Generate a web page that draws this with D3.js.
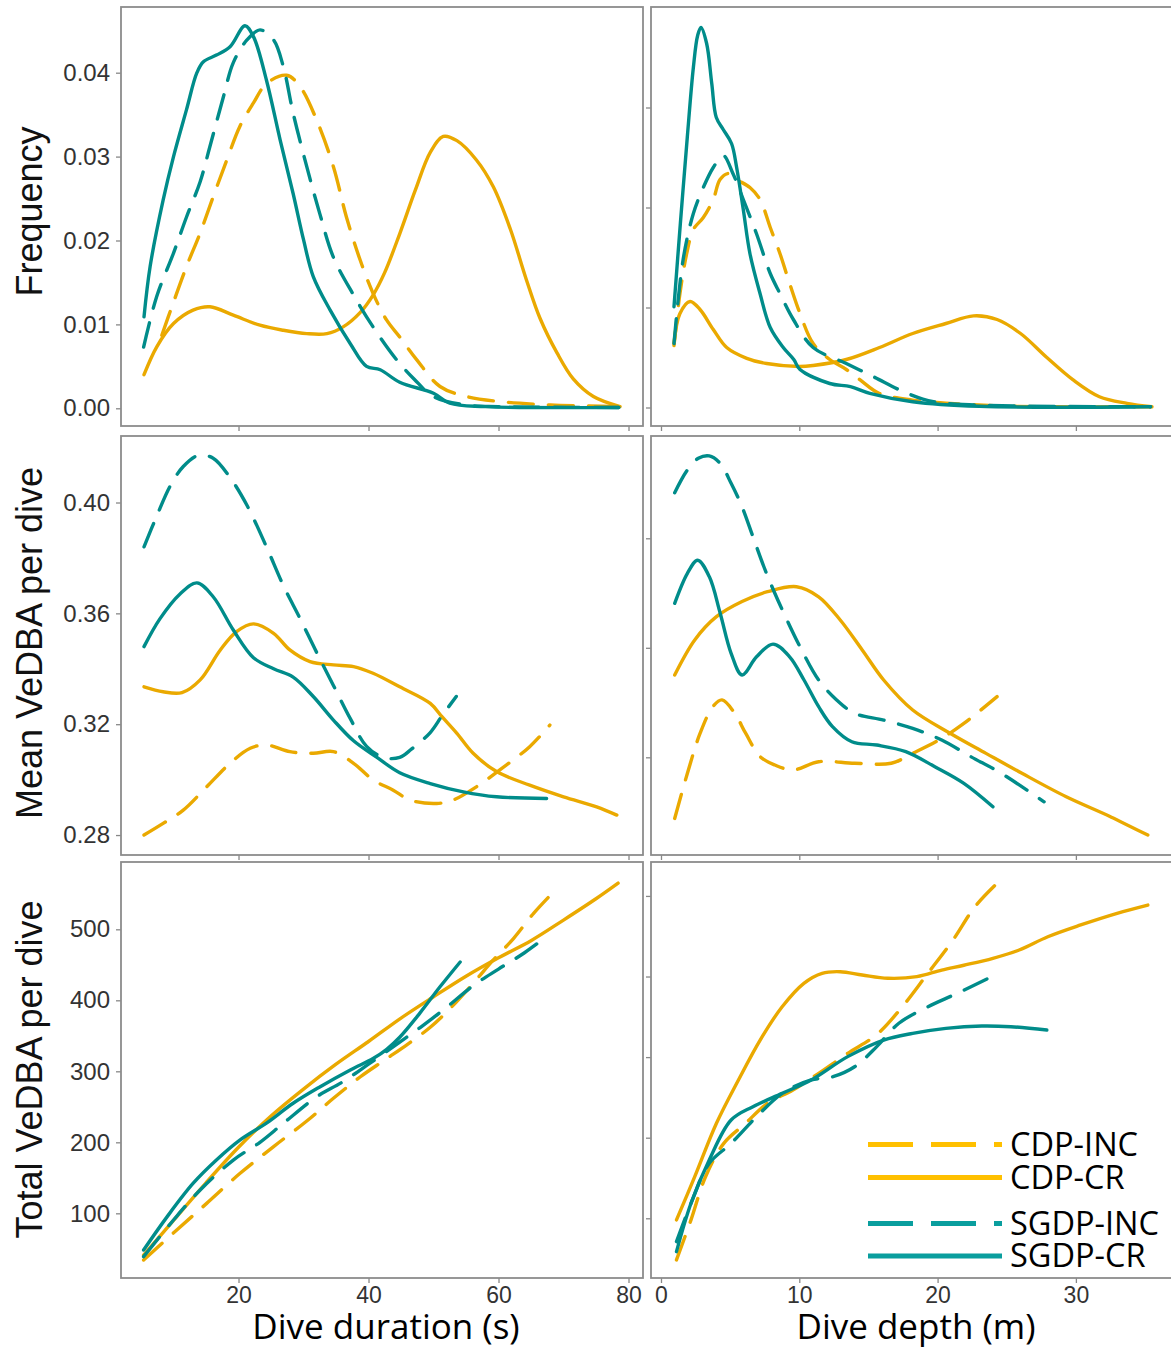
<!DOCTYPE html>
<html><head><meta charset="utf-8">
<script src="https://cdn.jsdelivr.net/npm/d3@7"></script>
<style>body{margin:0;background:#fff}</style>
</head><body><svg id="chart" width="1171" height="1349"></svg>
<script>
// ---------------- DATA ----------------
const seriesNames = ["CDP-INC", "CDP-CR", "SGDP-INC", "SGDP-CR"];
const yTitles = ["Frequency", "Mean VeDBA per dive", "Total VeDBA per dive"];
const xTitles = ["Dive duration (s)", "Dive depth (m)"];

const durTicks = [20, 40, 60, 80];
const depTicks = [0, 10, 20, 30];
const freqDurTicks = [0, 0.01, 0.02, 0.03, 0.04];
const freqDepTicks = [0, 0.05, 0.10, 0.15];
const meanDurTicks = [0.28, 0.32, 0.36, 0.40];
const meanDepTicks = [0.30, 0.35, 0.40];
const totDurTicks = [100, 200, 300, 400, 500];
const totDepTicks = [100, 200, 300, 400, 500];

// Frequency vs dive duration
const freqDur_CDP_INC = [[8.2,0.0087],[9.7,0.012],[12,0.0169],[14.1,0.0209],[16.1,0.0252],[18.2,0.0296],[20.2,0.0336],[22.3,0.0364],[24.3,0.0387],[27.4,0.0397],[29.5,0.0383],[32,0.0344],[34.6,0.0288],[36.6,0.0228],[38.7,0.0177],[40.7,0.0137],[42.8,0.0105],[44.8,0.0085],[47.4,0.0058],[51,0.0026],[55.1,0.0014],[60.2,0.0008],[68,0.0004],[78.2,0.0002]];
const freqDur_CDP_CR = [[5.46,0.004],[7.4,0.0073],[10,0.0101],[13,0.0117],[15.6,0.0121],[19.2,0.0111],[23.3,0.0099],[26.9,0.0093],[30.5,0.0089],[33.6,0.0089],[36.1,0.0097],[38.7,0.0114],[40.7,0.0135],[42.5,0.0162],[44.8,0.0208],[47.2,0.0260],[49.5,0.0305],[51.5,0.0324],[53.6,0.0319],[56.6,0.0296],[59.2,0.0264],[61.8,0.0214],[64.3,0.0153],[66.4,0.0107],[69,0.0066],[71.5,0.0035],[74.6,0.0014],[78.7,0.0002]];
const freqDur_SGDP_INC = [[5.4,0.0073],[7.4,0.0133],[10,0.0185],[12,0.0228],[14.1,0.0270],[15.6,0.0312],[17.7,0.0372],[19.2,0.0412],[21.3,0.0439],[23.3,0.0451],[25.4,0.0439],[26.9,0.0407],[28.4,0.0352],[30.5,0.0288],[32.5,0.0232],[34.6,0.0180],[37.7,0.0135],[40.7,0.0097],[44.3,0.0058],[47,0.0035],[50,0.0014],[55,0.0004],[60,0.0002],[78.5,0.0001]];
const freqDur_SGDP_CR = [[5.46,0.0109],[6.4,0.0169],[8.4,0.0248],[10,0.030],[12,0.0356],[13.6,0.040],[14.6,0.0413],[16.6,0.0421],[18.7,0.0431],[21,0.0456],[22.3,0.0443],[24.3,0.0391],[26.4,0.032],[28.4,0.0256],[30,0.0201],[31.5,0.0157],[34.1,0.0117],[37.2,0.0077],[39.7,0.005],[41.8,0.0046],[44.8,0.0031],[50,0.0018],[52.5,0.0006],[58,0.0002],[78.5,0.0001]];

// Frequency vs dive depth
const freqDep_CDP_INC = [[0.94,0.031],[1.37,0.057],[1.86,0.077],[2.34,0.089],[3.06,0.095],[3.78,0.104],[4.27,0.114],[4.87,0.117],[5.47,0.114],[6.43,0.110],[7.16,0.104],[7.9,0.090],[8.6,0.077],[9.3,0.062],[10.05,0.047],[11,0.032],[12.2,0.024],[13.4,0.019],[14.4,0.0138],[15.8,0.007],[18.2,0.0037],[20.6,0.0022],[25.5,0.0006],[35.4,0.0004]];
const freqDep_CDP_CR = [[0.94,0.032],[1.37,0.047],[2.1,0.053],[2.82,0.049],[3.78,0.039],[4.75,0.030],[6.2,0.0246],[7.64,0.022],[10,0.0205],[11,0.021],[13.4,0.024],[15.8,0.030],[18.2,0.037],[20.6,0.042],[22.6,0.0458],[24.3,0.044],[26,0.037],[27.9,0.025],[29.8,0.0138],[31.7,0.0054],[33.7,0.0021],[35.5,0.0004]];
const freqDep_SGDP_INC = [[0.94,0.032],[1.6,0.074],[2.34,0.097],[3.06,0.110],[3.78,0.120],[4.5,0.126],[5.2,0.117],[5.95,0.104],[6.9,0.087],[7.9,0.067],[8.6,0.057],[9.57,0.044],[11,0.030],[13.4,0.022],[15.35,0.0154],[17.8,0.0071],[19.7,0.0029],[23,0.0012],[35.4,0.0004]];
const freqDep_SGDP_CR = [[0.94,0.0504],[1.4,0.092],[1.9,0.135],[2.34,0.170],[2.65,0.186],[2.89,0.190],[3.3,0.182],[3.67,0.162],[4.0,0.145],[4.5,0.139],[5.1,0.132],[5.47,0.120],[5.95,0.099],[6.43,0.077],[7.16,0.057],[7.9,0.040],[8.84,0.030],[9.6,0.024],[10.05,0.019],[12.2,0.012],[13.7,0.0104],[15.1,0.0071],[18.2,0.0029],[23,0.0006],[35.4,0.0004]];

// Mean VeDBA vs dive duration
const meanDur_CDP_INC = [[5.46,0.280],[8.4,0.2842],[11.5,0.289],[15.1,0.2974],[18.7,0.3059],[21.8,0.3113],[24.3,0.3125],[27.9,0.3101],[31.5,0.3095],[34.6,0.3101],[37.7,0.3059],[40.7,0.2999],[43.8,0.2962],[46.4,0.2926],[50.5,0.2914],[53,0.2926],[56.6,0.2974],[60.2,0.3035],[64.8,0.3119],[67.9,0.3197]];
const meanDur_CDP_CR = [[5.46,0.3335],[8.4,0.3317],[11.3,0.3314],[14.1,0.336],[17.2,0.3468],[19.7,0.3534],[22.3,0.3562],[25.4,0.3528],[27.9,0.3468],[31,0.3426],[34.6,0.3414],[37.7,0.3408],[40.7,0.3384],[44.8,0.3335],[49.5,0.3275],[51.3,0.3227],[53.6,0.3167],[56.1,0.3095],[59.7,0.3029],[64.8,0.298],[70,0.2938],[75.1,0.2902],[78.2,0.2872]];
const meanDur_SGDP_INC = [[5.46,0.384],[7.4,0.395],[9.5,0.406],[11.5,0.413],[13.8,0.417],[16.1,0.416],[18.7,0.409],[21.3,0.399],[24.3,0.384],[26.9,0.370],[29.5,0.358],[32,0.346],[34.6,0.334],[37.2,0.322],[39.7,0.312],[42.3,0.308],[44.8,0.308],[46.6,0.311],[49.5,0.317],[51.3,0.323],[53.5,0.330]];
const meanDur_SGDP_CR = [[5.46,0.348],[7.9,0.358],[11,0.367],[13.6,0.371],[16.1,0.366],[19.2,0.354],[22.3,0.344],[25.4,0.340],[28.4,0.337],[31.5,0.330],[34.6,0.3215],[37.7,0.314],[41.3,0.308],[44.8,0.3025],[49.5,0.2986],[54.6,0.2956],[59.7,0.2938],[67.4,0.2932]];

// Mean VeDBA vs dive depth
const meanDep_CDP_INC = [[0.99,0.2721],[1.91,0.2927],[2.83,0.311],[3.75,0.3231],[4.41,0.3262],[5.33,0.3201],[6.12,0.311],[7.17,0.3003],[8.23,0.2965],[9.54,0.2942],[11.4,0.298],[14.0,0.2973],[16.65,0.2973],[18.2,0.3018],[20.1,0.3079],[21.9,0.3155],[24.3,0.3277]];
const meanDep_CDP_CR = [[0.99,0.3376],[2.44,0.3536],[4.01,0.3642],[5.86,0.3711],[7.7,0.3756],[9.8,0.3779],[11.4,0.3733],[12.96,0.3627],[14.55,0.349],[16.1,0.3353],[18.2,0.3216],[20.9,0.311],[23.5,0.3018],[26.1,0.2927],[29.3,0.282],[32.5,0.2729],[35.2,0.2645]];
const meanDep_SGDP_INC = [[0.99,0.4208],[1.91,0.4312],[2.7,0.4365],[3.49,0.4376],[4.28,0.4342],[5.07,0.4251],[5.86,0.4144],[6.65,0.4007],[7.44,0.387],[8.23,0.3749],[9.0,0.3642],[10.05,0.3505],[11.4,0.3353],[12.7,0.3262],[14.0,0.3201],[16.1,0.317],[18.2,0.3132],[20.3,0.3079],[22.4,0.3003],[24.6,0.2927],[27.7,0.2797]];
const meanDep_SGDP_CR = [[0.99,0.3703],[1.91,0.384],[2.65,0.390],[3.49,0.3825],[4.28,0.3658],[5.07,0.3475],[5.86,0.3376],[6.91,0.3459],[8.1,0.3517],[9.3,0.3459],[10.34,0.3353],[11.4,0.3231],[12.4,0.314],[13.8,0.3071],[15.6,0.3056],[17.7,0.3026],[19.8,0.2957],[21.9,0.2881],[24.0,0.2774]];

// Total VeDBA vs dive duration
const totDur_CDP_INC = [[5.4,34.2],[10.5,76.5],[15.1,114],[20.2,156],[25.4,194],[30.5,230],[34.6,262],[38.7,292],[42.5,316],[46,338],[49.5,362],[52.5,388],[56.1,424],[59.2,456.8],[62.3,487],[65.4,522.5],[69,557.7]];
const totDur_CDP_CR = [[5.4,41],[10,90],[15,143],[20,193],[25,237],[30,275],[35,310],[40,342],[45,375],[50,405],[55,434],[60,460],[65,484],[70,513],[75,543],[78.4,565]];
const totDur_SGDP_INC = [[5.4,39],[10,90.6],[14.1,132.8],[19.2,175],[23.3,200],[26.9,226.8],[32,264],[36,285],[40,310],[44,336],[48,362],[52,390],[56,420],[60,444],[64,467],[67.7,492]];
const totDur_SGDP_CR = [[5.4,48.3],[9,95],[13,142],[16.6,175],[20.2,203],[24.3,227],[28.4,255],[32.5,278],[37.2,302],[40.7,318],[42.8,331],[44.8,348],[47.9,382],[51,419],[54.1,454]];

// Total VeDBA vs dive depth
const totDep_CDP_INC = [[1.12,48.3],[2.17,98],[3.22,151.6],[4.54,193],[6.12,217.9],[7.7,242.7],[9.54,259.2],[11.4,279.9],[13.5,304.7],[15.6,328],[17.45,362.5],[19.3,404],[21.1,445],[22.7,486.6],[24.3,515.6]];
const totDep_CDP_CR = [[1.12,98],[2.44,151.6],[4.01,217.9],[5.6,271.6],[7.17,321.2],[8.76,362.5],[10.33,391.6],[11.65,404],[12.96,406],[14.55,401.9],[16.4,397.8],[18.5,399.8],[20.3,408],[21.9,414],[24,422.6],[25.9,432.9],[27.97,449.4],[30.35,464],[32.98,478.4],[35.2,488.7]];
const totDep_SGDP_INC = [[1.12,71],[2.17,118.6],[3.49,168.2],[5.07,193],[6.91,226],[8.76,255],[10.86,271.6],[12.44,275.7],[14,288],[15.6,313],[17.2,342],[19.3,362.5],[21.4,379],[23.9,399.8]];
const totDep_SGDP_CR = [[1.12,58.6],[2.17,118.6],[3.49,172.3],[5.07,221.9],[6.65,238.5],[8.76,255],[10.86,271.6],[13.5,300.6],[16.1,321.2],[18.2,329.5],[20.6,335.7],[23.2,338.6],[25.3,337.7],[27.9,333.6]];

// ---------------- LAYOUT / STYLE ----------------
const W = 1171, H = 1349;
const cols = [
  { x0: 121, x1: 643, domain: [1.92, 82.23], ticks: durTicks },
  { x0: 651, x1: 1176, domain: [-0.723, 37.239], ticks: depTicks }
];
const rows = [
  { y0: 7, y1: 426, titleY: 211.5 },
  { y0: 436, y1: 855, titleY: 643 },
  { y0: 862, y1: 1278, titleY: 1069.5 }
];
const colorOf = { "CDP-INC": "#EAA900", "CDP-CR": "#EAA900", "SGDP-INC": "#008C8A", "SGDP-CR": "#008C8A" };
const legendColorOf = { "CDP-INC": "#FFC000", "CDP-CR": "#FFC000", "SGDP-INC": "#0A9E9E", "SGDP-CR": "#0A9E9E" };
const dashedOf = { "CDP-INC": true, "CDP-CR": false, "SGDP-INC": true, "SGDP-CR": false };

const panels = [
  { r: 0, c: 0, yDomain: [-0.00211, 0.04783], yTicks: freqDurTicks, labels: true, fmt: d3.format(".2f"),
    data: [freqDur_CDP_INC, freqDur_CDP_CR, freqDur_SGDP_INC, freqDur_SGDP_CR] },
  { r: 0, c: 1, yDomain: [-0.00925, 0.20025], yTicks: freqDepTicks, labels: false,
    data: [freqDep_CDP_INC, freqDep_CDP_CR, freqDep_SGDP_INC, freqDep_SGDP_CR] },
  { r: 1, c: 0, yDomain: [0.2728, 0.4240], yTicks: meanDurTicks, labels: true, fmt: d3.format(".2f"),
    data: [meanDur_CDP_INC, meanDur_CDP_CR, meanDur_SGDP_INC, meanDur_SGDP_CR] },
  { r: 1, c: 1, yDomain: [0.2554, 0.4467], yTicks: meanDepTicks, labels: false,
    data: [meanDep_CDP_INC, meanDep_CDP_CR, meanDep_SGDP_INC, meanDep_SGDP_CR] },
  { r: 2, c: 0, yDomain: [8.9, 594.8], yTicks: totDurTicks, labels: true, fmt: d3.format("d"),
    data: [totDur_CDP_INC, totDur_CDP_CR, totDur_SGDP_INC, totDur_SGDP_CR] },
  { r: 2, c: 1, yDomain: [25.9, 542.1], yTicks: totDepTicks, labels: false,
    data: [totDep_CDP_INC, totDep_CDP_CR, totDep_SGDP_INC, totDep_SGDP_CR] }
];

const svg = d3.select("#chart");
svg.append("rect").attr("width", W).attr("height", H).attr("fill", "#fff");

const axisFont = "'Liberation Sans', Arial, sans-serif";
const titleFont = "'Open Sans', 'Noto Sans', sans-serif";

panels.forEach(p => {
  const col = cols[p.c], row = rows[p.r];
  const x = d3.scaleLinear().domain(col.domain).range([col.x0, col.x1]);
  const y = d3.scaleLinear().domain(p.yDomain).range([row.y1, row.y0]);
  const g = svg.append("g");

  const yAxis = d3.axisLeft(y).tickValues(p.yTicks).tickSize(5).tickPadding(6)
    .tickFormat(p.labels ? p.fmt : () => "");
  const ya = g.append("g").attr("transform", `translate(${col.x0},0)`).call(yAxis);
  ya.select(".domain").remove();
  ya.selectAll("line").attr("stroke", "#888").attr("stroke-width", 1.3);
  ya.selectAll("text").attr("font-family", axisFont).attr("font-size", 24).attr("fill", "#333");

  const showX = p.r === rows.length - 1;
  const xAxis = d3.axisBottom(x).tickValues(col.ticks).tickSize(5).tickPadding(4)
    .tickFormat(showX ? d3.format("d") : () => "");
  const xa = g.append("g").attr("transform", `translate(0,${row.y1})`).call(xAxis);
  xa.select(".domain").remove();
  xa.selectAll("line").attr("stroke", "#888").attr("stroke-width", 1.3);
  xa.selectAll("text").attr("font-family", axisFont).attr("font-size", 23).attr("fill", "#333");

  const cid = `clip-${p.r}-${p.c}`;
  svg.append("clipPath").attr("id", cid).append("rect")
    .attr("x", col.x0).attr("y", row.y0).attr("width", col.x1 - col.x0).attr("height", row.y1 - row.y0);

  const line = d3.line().x(d => x(d[0])).y(d => y(d[1])).curve(d3.curveCatmullRom.alpha(0.5));
  const lg = g.append("g").attr("clip-path", `url(#${cid})`);
  const order = [1, 0, 3, 2];
  order.forEach(i => {
    const name = seriesNames[i];
    lg.append("path").datum(p.data[i]).attr("d", line)
      .attr("fill", "none").attr("stroke", colorOf[name]).attr("stroke-width", 3.4)
      .attr("stroke-linecap", "round").attr("stroke-linejoin", "round")
      .attr("stroke-dasharray", dashedOf[name] ? "25,15" : null);
  });

  g.append("rect").attr("x", col.x0).attr("y", row.y0)
    .attr("width", col.x1 - col.x0).attr("height", row.y1 - row.y0)
    .attr("fill", "none").attr("stroke", "#8c8c8c").attr("stroke-width", 1.8);
});

// y-axis titles
rows.forEach((row, i) => {
  svg.append("text").text(yTitles[i])
    .attr("transform", `translate(42,${row.titleY}) rotate(-90)`)
    .attr("text-anchor", "middle").attr("font-family", axisFont)
    .attr("font-size", 36).attr("fill", "#111");
});

// x-axis titles
cols.forEach((col, i) => {
  svg.append("text").text(xTitles[i])
    .attr("x", i === 0 ? 386 : 916).attr("y", 1339)
    .attr("text-anchor", "middle").attr("font-family", titleFont)
    .attr("font-size", 35).attr("fill", "#000");
});

// legend in bottom-right panel
const legendY = [1144.5, 1177.5, 1223.5, 1256];
const lgd = svg.append("g");
seriesNames.forEach((name, i) => {
  lgd.append("line").attr("x1", 868).attr("x2", 1002).attr("y1", legendY[i]).attr("y2", legendY[i])
    .attr("stroke", legendColorOf[name]).attr("stroke-width", 5)
    .attr("stroke-dasharray", dashedOf[name] ? "45,18" : null);
  lgd.append("text").text(name).attr("x", 1010).attr("y", legendY[i])
    .attr("dy", "0.35em").attr("font-family", titleFont).attr("font-size", 32.5).attr("fill", "#000");
});
</script>
</body></html>
